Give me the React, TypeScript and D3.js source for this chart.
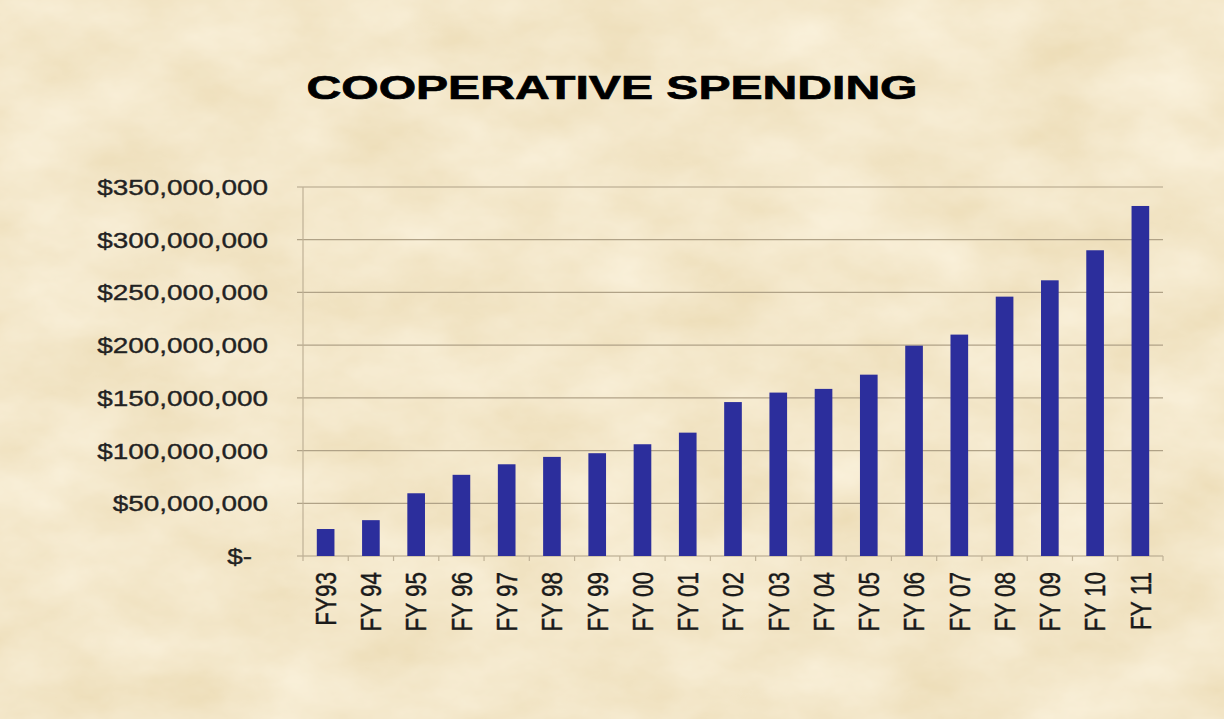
import * as d3 from "d3";
import { useEffect, useRef } from "react";

const TITLE = "COOPERATIVE SPENDING";

const CATEGORIES = [
  "FY93", "FY 94", "FY 95", "FY 96", "FY 97", "FY 98", "FY 99", "FY 00", "FY 01", "FY 02",
  "FY 03", "FY 04", "FY 05", "FY 06", "FY 07", "FY 08", "FY 09", "FY 10", "FY 11",
];

// spending in dollars
const SPENDING = [
  25.6e6, 34e6, 59.5e6, 77e6, 87e6, 94e6, 97.5e6, 106e6, 117e6, 146e6,
  155e6, 158.5e6, 172e6, 199.5e6, 210e6, 246e6, 261.5e6, 290e6, 332e6,
];

const Y_TICKS = [0, 50e6, 100e6, 150e6, 200e6, 250e6, 300e6, 350e6];

const W = 1224;
const H = 719;
const STRETCH = 1.27; // the original slide is squashed wide

const fmtMoney = (v: number) => (v === 0 ? "$-" : "$" + d3.format(",")(v));

export default function App() {
  const ref = useRef<SVGSVGElement>(null);

  useEffect(() => {
    if (!ref.current) return;
    document.body.style.margin = "0";

    const svg = d3.select(ref.current);
    svg.selectAll("*").remove();
    svg.attr("width", W).attr("height", H);

    const plot = { left: 303, right: 1163, top: 187, bottom: 556 };

    // parchment background
    const defs = svg.append("defs");
    const f = defs.append("filter").attr("id", "paper").attr("x", 0).attr("y", 0).attr("width", 1).attr("height", 1);
    f.append("feTurbulence")
      .attr("type", "fractalNoise")
      .attr("baseFrequency", "0.009 0.015")
      .attr("numOctaves", 5)
      .attr("seed", 7)
      .attr("result", "n");
    f.append("feColorMatrix")
      .attr("in", "n")
      .attr("type", "matrix")
      .attr("values", "0.14 0 0 0 0.83  0.2 0 0 0 0.70  0.3 0 0 0 0.44  0 0 0 0 1");
    svg.append("rect").attr("width", W).attr("height", H).attr("fill", "#ead3a9");
    svg.append("rect").attr("width", W).attr("height", H).attr("filter", "url(#paper)");

    const font = "'Liberation Sans', Arial, sans-serif";

    // title
    svg
      .append("text")
      .attr("transform", `translate(${W / 2},99) scale(1.415,1)`)
      .attr("text-anchor", "middle")
      .style("font-family", font)
      .style("font-weight", "bold")
      .style("font-size", "34px")
      .attr("fill", "#000")
      .attr("stroke", "#000")
      .attr("stroke-width", 0.7)
      .text(TITLE);

    const x = d3
      .scaleBand()
      .domain(CATEGORIES)
      .range([plot.left, plot.right])
      .paddingInner(0.61)
      .paddingOuter(0.305);
    const y = d3.scaleLinear().domain([0, 350e6]).range([plot.bottom, plot.top]);

    const g = svg.append("g");

    // gridlines + y ticks
    g.selectAll("line.grid")
      .data(Y_TICKS)
      .join("line")
      .attr("class", "grid")
      .attr("x1", plot.left - 6)
      .attr("x2", plot.right)
      .attr("y1", (d) => y(d))
      .attr("y2", (d) => y(d))
      .attr("stroke", "#b0a287")
      .attr("stroke-width", 1.2);

    // y axis line
    g.append("line")
      .attr("x1", plot.left)
      .attr("x2", plot.left)
      .attr("y1", plot.top)
      .attr("y2", plot.bottom)
      .attr("stroke", "#bfb196")
      .attr("stroke-width", 1.2);

    // x ticks at band boundaries
    const step = x.step();
    g.selectAll("line.xtick")
      .data(d3.range(CATEGORIES.length + 1))
      .join("line")
      .attr("class", "xtick")
      .attr("x1", (i) => plot.left + i * step)
      .attr("x2", (i) => plot.left + i * step)
      .attr("y1", plot.bottom)
      .attr("y2", plot.bottom + 5)
      .attr("stroke", "#bfb196")
      .attr("stroke-width", 1.2);

    // bars
    g.selectAll("rect.bar")
      .data(SPENDING)
      .join("rect")
      .attr("class", "bar")
      .attr("x", (_, i) => x(CATEGORIES[i]) ?? 0)
      .attr("y", (d) => y(d))
      .attr("width", x.bandwidth())
      .attr("height", (d) => y(0) - y(d))
      .attr("fill", "#2c2e9c");

    // y labels
    g.selectAll("text.ylab")
      .data(Y_TICKS)
      .join("text")
      .attr("class", "ylab")
      .attr("transform", (d) => `translate(${d === 0 ? 252 : 268},${y(d) + 8}) scale(${STRETCH},1)`)
      .attr("text-anchor", "end")
      .style("font-family", font)
      .style("font-size", "22px")
      .attr("fill", "#222")
      .attr("stroke", "#222")
      .attr("stroke-width", 0.35)
      .text((d) => fmtMoney(d));

    // x labels, rotated
    g.selectAll("text.xlab")
      .data(CATEGORIES)
      .join("text")
      .attr("class", "xlab")
      .attr(
        "transform",
        (d) => `translate(${(x(d) ?? 0) + x.bandwidth() / 2},572) scale(${STRETCH},1) rotate(-90)`
      )
      .attr("text-anchor", "end")
      .attr("dy", "0.36em")
      .style("font-family", font)
      .style("font-size", "22.5px")
      .attr("fill", "#1a1a1a")
      .attr("stroke", "#1a1a1a")
      .attr("stroke-width", 0.35)
      .text((d) => d);
  }, []);

  return <svg ref={ref} style={{ display: "block" }} />;
}
